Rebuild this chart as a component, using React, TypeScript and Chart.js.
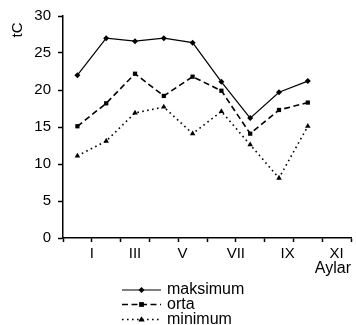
import React, { useEffect, useRef } from "react";
import { Chart, registerables } from "chart.js";

Chart.register(...registerables);

const seriesNames = ["maksimum", "orta", "minimum"];
const xPositions = [0.5, 1.5, 2.5, 3.5, 4.5, 5.5, 6.5, 7.5, 8.5];
const maksimum = [22, 27, 26.6, 27, 26.4, 21.1, 16.2, 19.7, 21.2];
const orta = [15.1, 18.2, 22.2, 19.2, 21.8, 19.9, 14.1, 17.3, 18.3];
const minimum = [11.1, 13.1, 16.9, 17.7, 14.1, 17.1, 12.6, 8.1, 15.1];
const monthLabels = ["I", "III", "V", "VII", "IX", "XI"];
const monthLabelPositions = [1.0, 2.5, 4.15, 6.0, 7.8, 9.5];
const yTitle = "tC";
const xTitle = "Aylar";

const FONT = "'Liberation Sans', Arial, sans-serif";

const legendPlugin = {
  id: "customLegend",
  afterDraw(chart: any) {
    const ctx = chart.ctx;
    const x0 = 122;
    const x1 = 161;
    const tx = 167;
    const rows = [290, 304.5, 319.5];
    ctx.save();
    // y axis title
    ctx.save();
    ctx.translate(18, 30);
    ctx.rotate(-Math.PI / 2);
    ctx.fillStyle = "#000";
    ctx.font = `15px ${FONT}`;
    ctx.textAlign = "center";
    ctx.textBaseline = "middle";
    ctx.fillText(yTitle, 0, 0);
    ctx.restore();
    chart.data.datasets.forEach((ds: any, i: number) => {
      const y = rows[i];
      ctx.strokeStyle = ds.borderColor;
      ctx.lineWidth = ds.borderWidth;
      ctx.setLineDash(ds.borderDash || []);
      ctx.beginPath();
      ctx.moveTo(x0, y);
      ctx.lineTo(x1, y);
      ctx.stroke();
      ctx.setLineDash([]);
      ctx.fillStyle = ds.pointBackgroundColor;
      const cx = (x0 + x1) / 2;
      const r = ds.pointRadius;
      ctx.beginPath();
      if (ds.pointStyle === "rectRot") {
        ctx.moveTo(cx, y - r);
        ctx.lineTo(cx + r, y);
        ctx.lineTo(cx, y + r);
        ctx.lineTo(cx - r, y);
      } else if (ds.pointStyle === "rect") {
        ctx.rect(cx - r * 0.8, y - r * 0.8, r * 1.6, r * 1.6);
      } else {
        ctx.moveTo(cx, y - r);
        ctx.lineTo(cx + r, y + r * 0.6);
        ctx.lineTo(cx - r, y + r * 0.6);
      }
      ctx.closePath();
      ctx.fill();
      ctx.fillStyle = "#000";
      ctx.font = `16px ${FONT}`;
      ctx.textBaseline = "middle";
      ctx.textAlign = "left";
      ctx.fillText(ds.label, tx, y);
    });
    ctx.restore();
  },
};

export default function App() {
  const ref = useRef<HTMLCanvasElement>(null);
  useEffect(() => {
    const mk = (vals: number[]) => vals.map((v, i) => ({ x: xPositions[i], y: v }));
    const chart = new Chart(ref.current!, {
      type: "line",
      data: {
        datasets: [
          {
            label: seriesNames[0],
            data: mk(maksimum),
            borderColor: "#000",
            borderWidth: 1.2,
            pointStyle: "rectRot",
            pointRadius: 3,
            pointBackgroundColor: "#000",
            pointBorderWidth: 0,
          },
          {
            label: seriesNames[1],
            data: mk(orta),
            borderColor: "#000",
            borderWidth: 1.6,
            borderDash: [6, 3.5],
            pointStyle: "rect",
            pointRadius: 3,
            pointBackgroundColor: "#000",
            pointBorderWidth: 0,
          },
          {
            label: seriesNames[2],
            data: mk(minimum),
            borderColor: "#000",
            borderWidth: 1.6,
            borderDash: [1.6, 3.4],
            pointStyle: "triangle",
            pointRadius: 3.2,
            pointBackgroundColor: "#000",
            pointBorderWidth: 0,
          },
        ],
      },
      options: {
        animation: false,
        responsive: false,
        devicePixelRatio: 1,
        layout: { padding: { left: 0, right: 5, top: 15, bottom: 47 } },
        plugins: { legend: { display: false }, tooltip: { enabled: false } },
        scales: {
          x: {
            type: "linear",
            min: 0,
            max: 10,
            afterBuildTicks: (scale: any) => {
              const vals = new Set<number>();
              for (let i = 0; i <= 10; i++) vals.add(i);
              monthLabelPositions.forEach((p) => vals.add(p));
              scale.ticks = Array.from(vals)
                .sort((a, b) => a - b)
                .map((v) => ({ value: v }));
            },
            afterFit: (scale: any) => {
              scale.height = 40;
            },
            border: { display: true, color: "#000", width: 1.5 },
            grid: {
              drawOnChartArea: false,
              tickLength: 4,
              tickWidth: 1.5,
              tickColor: (ctx: any) =>
                Number.isInteger(ctx.tick?.value) ? "#000" : "rgba(0,0,0,0)",
            },
            ticks: {
              autoSkip: false,
              maxRotation: 0,
              padding: 3,
              color: "#000",
              font: { family: FONT, size: 15 },
              callback: (v: any) => {
                const idx = monthLabelPositions.indexOf(Number(v));
                return idx >= 0 ? monthLabels[idx] : "";
              },
            },
            title: {
              display: true,
              text: xTitle,
              align: "end",
              color: "#000",
              font: { family: FONT, size: 16 },
              padding: { top: 0, bottom: 0 },
            },
          },
          y: {
            min: 0,
            max: 30,
            afterFit: (scale: any) => {
              scale.width = 63;
            },
            border: { display: true, color: "#000", width: 1.5 },
            grid: { drawOnChartArea: false, tickLength: 5, tickWidth: 1.5, tickColor: "#000" },
            ticks: {
              stepSize: 5,
              padding: 7,
              color: "#000",
              font: { family: FONT, size: 15 },
            },
          },
        },
      },
      plugins: [legendPlugin],
    } as any);
    return () => chart.destroy();
  }, []);
  return (
    <div style={{ position: "absolute", left: 0, top: 0, width: 356, height: 325, background: "#fff" }}>
      <canvas ref={ref} width={356} height={325} style={{ display: "block" }} />
    </div>
  );
}
